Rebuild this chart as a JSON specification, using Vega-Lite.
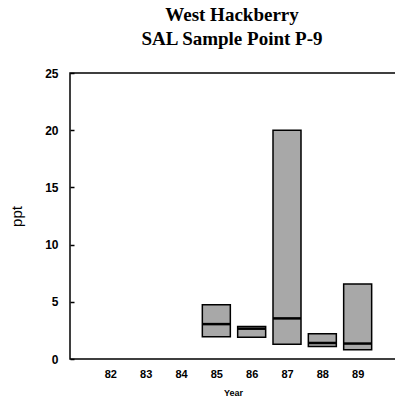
{
  "$schema": "https://vega.github.io/schema/vega-lite/v6.json",
  "autosize": {"type": "none"},
  "width": 328,
  "height": 286,
  "padding": {"left": 70, "top": 73, "right": 0, "bottom": 49},
  "background": "white",
  "config": {
    "view": {"stroke": "black", "strokeWidth": 1.5},
    "axis": {"grid": false, "domain": false}
  },
  "title": {
    "text": ["West Hackberry", "SAL Sample Point P-9"],
    "font": "Liberation Serif",
    "fontWeight": "bold",
    "fontSize": 19,
    "lineHeight": 24,
    "color": "black",
    "anchor": "middle",
    "dx": -2,
    "offset": 18
  },
  "data": {
    "values": [
      {"year": 85, "min": 1.95, "max": 4.75, "median": 3.05},
      {"year": 86, "min": 1.9, "max": 2.85, "median": 2.65},
      {"year": 87, "min": 1.3, "max": 20.0, "median": 3.55},
      {"year": 88, "min": 1.1, "max": 2.2, "median": 1.4},
      {"year": 89, "min": 0.8, "max": 6.55, "median": 1.35}
    ]
  },
  "encoding": {
    "x": {
      "field": "year",
      "type": "quantitative",
      "scale": {"domain": [81, 90], "nice": false, "zero": false},
      "axis": {
        "values": [82, 83, 84, 85, 86, 87, 88, 89],
        "title": "Year",
        "ticks": false,
        "labelPadding": 9,
        "labelFont": "Liberation Sans",
        "labelFontWeight": "bold",
        "labelFontSize": 11,
        "labelColor": "black",
        "titleFont": "Liberation Sans",
        "titleFontWeight": "bold",
        "titleFontSize": 9,
        "titleColor": "black",
        "titlePadding": 9,
        "titleX": 163
      }
    }
  },
  "layer": [
    {
      "mark": {"type": "bar", "width": 28, "fill": "#a8a8a8", "stroke": "black", "strokeWidth": 1.5},
      "encoding": {
        "y": {
          "field": "min",
          "type": "quantitative",
          "scale": {"domain": [0, 25], "nice": false},
          "axis": {
            "values": [0, 2.5, 5, 7.5, 10, 12.5, 15, 17.5, 20, 22.5, 25],
            "labelExpr": "datum.value % 5 === 0 ? datum.label : ''",
            "tickSize": -4,
            "tickColor": "black",
            "tickWidth": 1.5,
            "labelPadding": 16,
            "labelFont": "Liberation Sans",
            "labelFontWeight": "bold",
            "labelFontSize": 12,
            "labelColor": "black",
            "title": "ppt",
            "titleFont": "Liberation Sans",
            "titleFontWeight": "normal",
            "titleFontSize": 15,
            "titleColor": "black",
            "titlePadding": 20
          }
        },
        "y2": {"field": "max"}
      }
    },
    {
      "mark": {"type": "tick", "orient": "horizontal", "size": 28, "thickness": 2.5, "color": "black", "opacity": 1},
      "encoding": {
        "y": {"field": "median", "type": "quantitative"}
      }
    }
  ]
}
